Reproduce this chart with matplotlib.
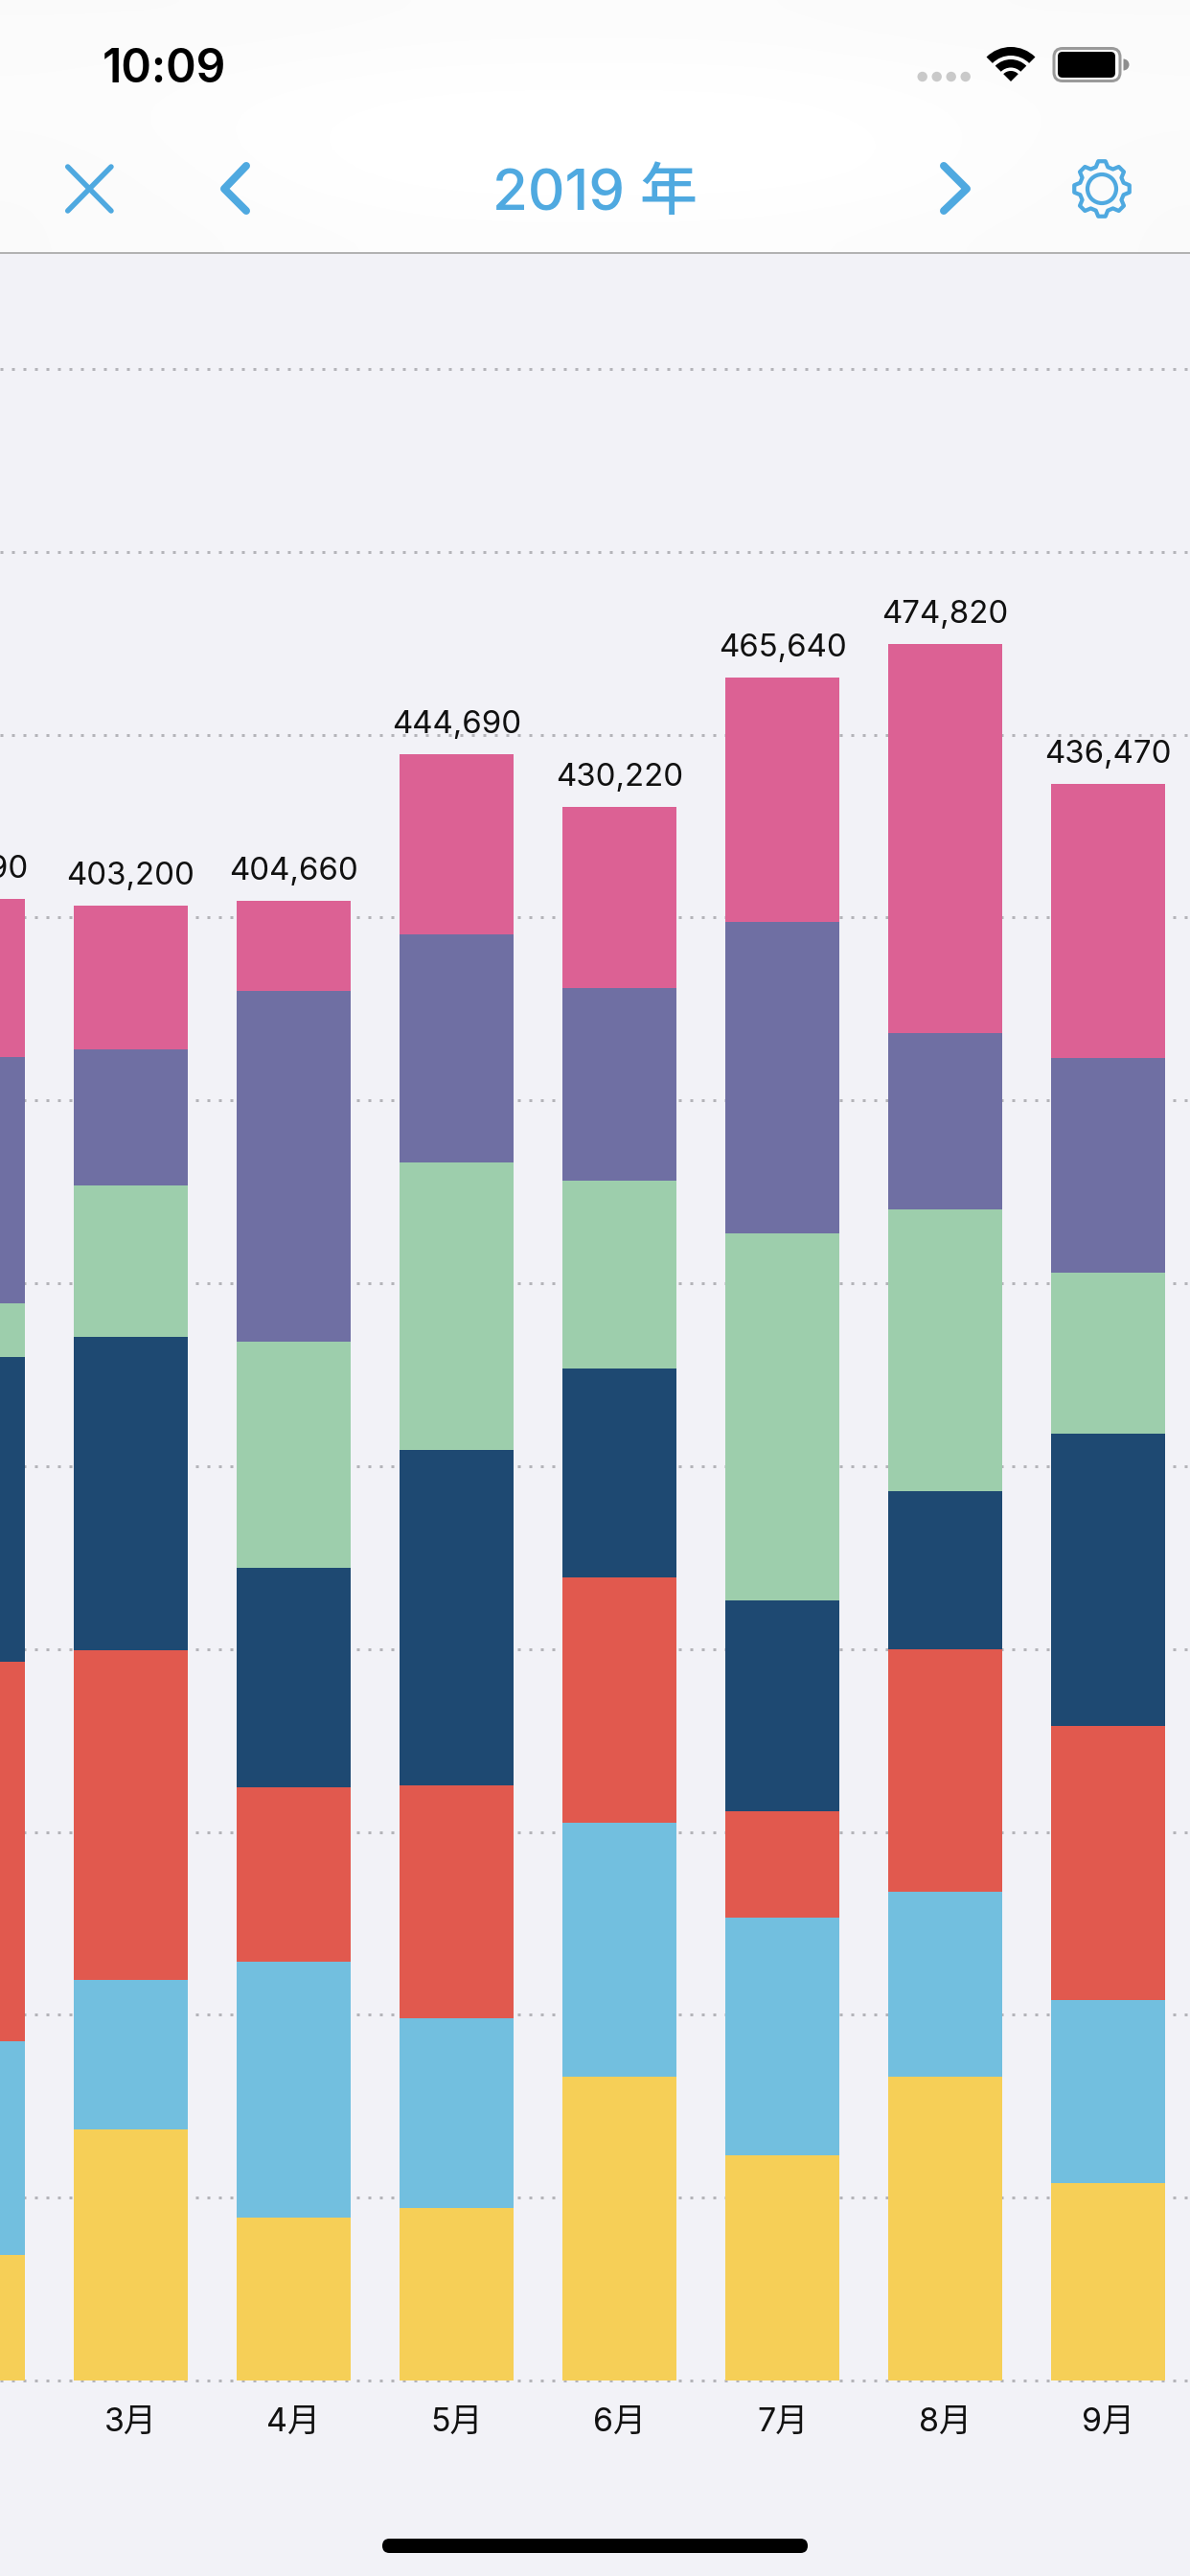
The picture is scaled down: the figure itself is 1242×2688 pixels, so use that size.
import numpy as np
import matplotlib
matplotlib.use("Agg")
import matplotlib.pyplot as plt
from matplotlib.patches import FancyBboxPatch, Wedge, Circle, Polygon

# ---- data -------------------------------------------------------------
months = [2, 3, 4, 5, 6, 7, 8, 9]
month_labels = ["2月", "3月", "4月", "5月", "6月", "7月", "8月", "9月"]
totals = [405190, 403200, 404660, 444690, 430220, 465640, 474820, 436470]
yellow = [34330, 68650, 44550, 47170, 83070, 61580, 83070, 53980]
blue = [58430, 40880, 69960, 51880, 69440, 64990, 50570, 50050]
red = [103770, 90140, 47690, 63680, 67080, 29090, 66300, 74940]
navy = [83330, 85690, 60010, 91710, 57120, 57650, 43240, 79920]
green = [14670, 41400, 61840, 78610, 51360, 100360, 77040, 44020]
purple = [67340, 37210, 95910, 62370, 52670, 85160, 48220, 58700]
pink = [43320, 39230, 24700, 49270, 49480, 66810, 106380, 74860]
grid_values = [50000 * i for i in range(12)]

series = [yellow, blue, red, navy, green, purple, pink]
colors = ["#F6CF57", "#72BFDF", "#E1594E", "#1E4972", "#9DCEAC", "#6F6FA3", "#DC6194"]

W, H = 1242, 2688
BG = "#F2F2F7"
ACCENT = "#4FA9E0"
LATIN = ["Inter", "Noto Sans CJK JP", "DejaVu Sans"]
plt.rcParams["font.family"] = LATIN


def pt(px):
    return px * 72 / 100


fig = plt.figure(figsize=(W / 100, H / 100), dpi=100, facecolor=BG)

# ---- chart ------------------------------------------------------------
top_px, base_px = 385.0, 2484.0
ax = fig.add_axes([0, 1 - base_px / H, 1, (base_px - top_px) / H])
ax.set_facecolor("none")
for s in ax.spines.values():
    s.set_visible(False)

ax.set_axisbelow(True)
ax.set_yticks(grid_values)
ax.tick_params(axis="y", length=0, labelleft=False)
ax.yaxis.grid(True, color="#B4B4B9", linewidth=pt(3), linestyle=(0, (1, 3)))

bottom = np.zeros(len(months))
for vals, c in zip(series, colors):
    ax.bar(months, vals, width=0.7, bottom=bottom, color=c, linewidth=0)
    bottom += np.array(vals)

for m, t in zip(months, totals):
    ax.annotate(f"{t:,}", (m, t), xytext=(0, pt(22)), textcoords="offset points",
                ha="center", va="baseline", fontsize=pt(33), color="#111111",
                annotation_clip=False)

ax.set_xticks(months)
ax.set_xticklabels(month_labels, fontsize=pt(34), color="#111111")
ax.tick_params(axis="x", length=0, pad=pt(28))

left_month = 3 - 136.5 / 170
ax.set_xlim(left_month, left_month + W / 170)
ax.set_ylim(0, 550000)
for gl in ax.get_ygridlines():
    gl.set_clip_on(False)
    gl.set_dash_capstyle("butt")

# ---- app chrome -------------------------------------------------------
ch = fig.add_axes([0, 0, 1, 1], zorder=5)
ch.patch.set_alpha(0)
haze = np.array([
    [.980, .980, .985, .985, .985, .980, .980],
    [.985, .990, .995, .995, .995, .990, .985],
    [.985, .995, 1.00, 1.00, 1.00, .995, .985],
    [.980, .992, 1.00, 1.00, 1.00, .995, .980],
    [.980, .985, .990, .990, .990, .985, .980],
])
ch.imshow(haze, cmap="gray", vmin=0, vmax=1, aspect="auto", interpolation="bicubic",
          extent=(0, W, 264, 0))
ch.set_xlim(0, W)
ch.set_ylim(H, 0)
ch.axis("off")
ch.plot([0, W], [264, 264], color="#B2B2B2", lw=pt(2), solid_capstyle="butt")

# status bar
ch.text(107, 85.5, "10:09", fontsize=pt(48), fontweight="semibold", color="black",
        ha="left", va="baseline")
for x in (962.7, 977.7, 992.7, 1007.7):
    ch.add_patch(Circle((x, 80), 5.2, color="#C9C9C9", lw=0))
for r, w in ((36, 9), (23, 8.5)):
    ch.add_patch(Wedge((1055, 85), r, 225, 315, width=w, color="black", lw=0))
ch.add_patch(Wedge((1055, 85), 11, 225, 315, color="black", lw=0))
ch.add_patch(FancyBboxPatch((1100, 50.5), 69, 34, boxstyle="round,pad=0,rounding_size=9",
                            fc="none", ec="#9A9A9A", lw=pt(3)))
ch.add_patch(FancyBboxPatch((1104, 54), 60, 27, boxstyle="round,pad=0,rounding_size=5",
                            fc="black", ec="none"))
ch.add_patch(Wedge((1172.5, 67.5), 6, -90, 90, color="#8E8E8E", lw=0))

# nav bar
ch.text(621, 219, "2019 年", fontsize=pt(60), fontweight="medium", color=ACCENT,
        ha="center", va="baseline")
kw = dict(color=ACCENT, solid_capstyle="round", solid_joinstyle="round")
ch.plot([70.7, 116], [174, 220], lw=pt(5.5), **kw)
ch.plot([70.7, 116], [220, 174], lw=pt(5.5), **kw)
ch.plot([257, 234, 257], [173, 197, 220], lw=pt(8), **kw)
ch.plot([985, 1009, 985], [173, 197, 220], lw=pt(8), **kw)

# gear
cx, cy = 1150, 197
n = 8
angs, rads = [], []
for i in range(n):
    a0 = -np.pi / 2 + i * 2 * np.pi / n
    for da, r in ((-0.27, 23.5), (-0.13, 29), (0.13, 29), (0.27, 23.5)):
        angs.append(a0 + da)
        rads.append(r)
angs, rads = np.array(angs), np.array(rads)
ch.add_patch(Polygon(np.c_[cx + rads * np.cos(angs), cy + rads * np.sin(angs)], closed=True,
                     fc="none", ec=ACCENT, lw=pt(4.2), joinstyle="round"))
ch.add_patch(Circle((cx, cy), 15, fc="none", ec=ACCENT, lw=pt(4.2)))

# home indicator
ch.add_patch(FancyBboxPatch((399, 2649), 444, 15, boxstyle="round,pad=0,rounding_size=7.5",
                            fc="black", ec="none"))

fig.savefig("out.png", dpi=100, facecolor=fig.get_facecolor())
